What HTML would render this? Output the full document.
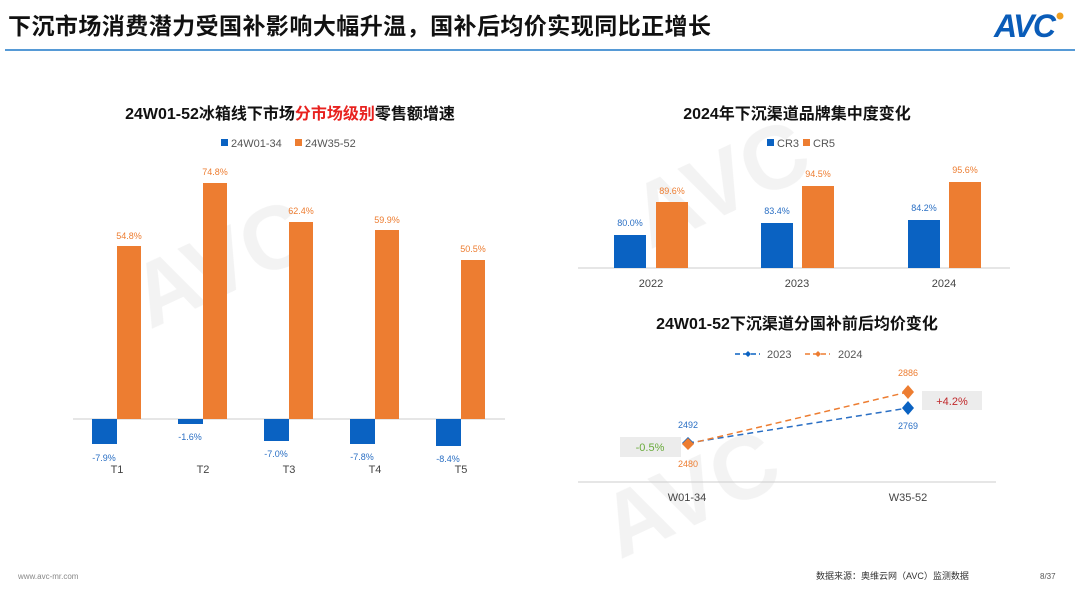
<!DOCTYPE html>
<html><head><meta charset="utf-8"><style>
body{margin:0;width:1080px;height:588px;background:#fff;overflow:hidden;font-family:"Liberation Sans","Noto Sans CJK SC",sans-serif;}
</style></head><body>
<svg width="1080" height="588" xmlns="http://www.w3.org/2000/svg" font-family="Liberation Sans, Noto Sans CJK SC, sans-serif">
<text x="8" y="34" font-size="23" font-weight="bold" fill="#111" textLength="703">下沉市场消费潜力受国补影响大幅升温，国补后均价实现同比正增长</text>
<text x="994" y="37" font-size="32" font-weight="bold" font-style="italic" fill="#0a5cb8" textLength="62">AVC</text>
<circle cx="1060" cy="16" r="3.5" fill="#f0a020"/>
<line x1="5" y1="50" x2="1075" y2="50" stroke="#1f78c8" stroke-width="1.5"/>

<g fill="#000" opacity="0.05" font-weight="bold">
<text x="150" y="330" font-size="90" transform="rotate(-25 150 330)">AVC</text>
<text x="650" y="250" font-size="90" transform="rotate(-25 650 250)">AVC</text>
<text x="620" y="560" font-size="90" transform="rotate(-25 620 560)">AVC</text>
</g>

<text x="290" y="119" font-size="16" font-weight="bold" text-anchor="middle" fill="#111">24W01-52冰箱线下市场<tspan fill="#e8221f">分市场级别</tspan>零售额增速</text>
<rect x="221" y="139" width="7" height="7" fill="#0a62c2"/><text x="231" y="147" font-size="11" fill="#555">24W01-34</text>
<rect x="295" y="139" width="7" height="7" fill="#ed7d31"/><text x="305" y="147" font-size="11" fill="#555">24W35-52</text>
<line x1="73" y1="419" x2="505" y2="419" stroke="#ccc"/>
<g fill="#0a62c2">
<rect x="92" y="419" width="25" height="25"/>
<rect x="178" y="419" width="25" height="5"/>
<rect x="264" y="419" width="25" height="22"/>
<rect x="350" y="419" width="25" height="25"/>
<rect x="436" y="419" width="25" height="27"/>
</g>
<g fill="#ed7d31">
<rect x="117" y="246" width="24" height="173"/>
<rect x="203" y="183" width="24" height="236"/>
<rect x="289" y="222" width="24" height="197"/>
<rect x="375" y="230" width="24" height="189"/>
<rect x="461" y="260" width="24" height="159"/>
</g>
<g font-size="9" text-anchor="middle" fill="#ed7d31">
<text x="129" y="239">54.8%</text><text x="215" y="175">74.8%</text><text x="301" y="214">62.4%</text><text x="387" y="223">59.9%</text><text x="473" y="252">50.5%</text>
</g>
<g font-size="9" text-anchor="middle" fill="#2a6fc4">
<text x="104" y="461">-7.9%</text><text x="190" y="440">-1.6%</text><text x="276" y="457">-7.0%</text><text x="362" y="460">-7.8%</text><text x="448" y="462">-8.4%</text>
</g>
<g font-size="11" text-anchor="middle" fill="#444">
<text x="117" y="473">T1</text><text x="203" y="473">T2</text><text x="289" y="473">T3</text><text x="375" y="473">T4</text><text x="461" y="473">T5</text>
</g>

<text x="797" y="119" font-size="16" font-weight="bold" text-anchor="middle" fill="#111">2024年下沉渠道品牌集中度变化</text>
<rect x="767" y="139" width="7" height="7" fill="#0a62c2"/><text x="777" y="147" font-size="11" fill="#555">CR3</text>
<rect x="803" y="139" width="7" height="7" fill="#ed7d31"/><text x="813" y="147" font-size="11" fill="#555">CR5</text>
<line x1="578" y1="268" x2="1010" y2="268" stroke="#ccc"/>
<rect x="614" y="235" width="32" height="33" fill="#0a62c2"/>
<rect x="656" y="202" width="32" height="66" fill="#ed7d31"/>
<rect x="761" y="223" width="32" height="45" fill="#0a62c2"/>
<rect x="802" y="186" width="32" height="82" fill="#ed7d31"/>
<rect x="908" y="220" width="32" height="48" fill="#0a62c2"/>
<rect x="949" y="182" width="32" height="86" fill="#ed7d31"/>
<g font-size="9" text-anchor="middle">
<text x="630" y="226" fill="#2a6fc4">80.0%</text><text x="672" y="194" fill="#ed7d31">89.6%</text>
<text x="777" y="214" fill="#2a6fc4">83.4%</text><text x="818" y="177" fill="#ed7d31">94.5%</text>
<text x="924" y="211" fill="#2a6fc4">84.2%</text><text x="965" y="173" fill="#ed7d31">95.6%</text>
</g>
<g font-size="11" text-anchor="middle" fill="#444">
<text x="651" y="287">2022</text><text x="797" y="287">2023</text><text x="944" y="287">2024</text>
</g>

<text x="797" y="329" font-size="16" font-weight="bold" text-anchor="middle" fill="#111">24W01-52下沉渠道分国补前后均价变化</text>
<line x1="735" y1="354" x2="760" y2="354" stroke="#0a62c2" stroke-width="1.5" stroke-dasharray="5,3"/><path d="M748 351l3 3-3 3-3-3z" fill="#0a62c2"/>
<text x="767" y="358" font-size="11" fill="#555">2023</text>
<line x1="805" y1="354" x2="830" y2="354" stroke="#ed7d31" stroke-width="1.5" stroke-dasharray="5,3"/><path d="M818 351l3 3-3 3-3-3z" fill="#ed7d31"/>
<text x="838" y="358" font-size="11" fill="#555">2024</text>
<rect x="620" y="437" width="61" height="20" fill="#ececec"/>
<text x="650" y="451" font-size="11" text-anchor="middle" fill="#6aab3c">-0.5%</text>
<rect x="922" y="391" width="60" height="19" fill="#ececec"/>
<text x="952" y="405" font-size="11" text-anchor="middle" fill="#c0282a">+4.2%</text>
<line x1="688" y1="443" x2="908" y2="408" stroke="#2a6fc4" stroke-width="1.5" stroke-dasharray="6,4"/>
<line x1="688" y1="444" x2="908" y2="392" stroke="#ed7d31" stroke-width="1.5" stroke-dasharray="6,4"/>
<path d="M688 437l6 6-6 6-6-6z" fill="#0a62c2"/>
<path d="M688 438l6 6-6 6-6-6z" fill="#ed7d31"/>
<path d="M908 401l6 7-6 7-6-7z" fill="#0a62c2"/>
<path d="M908 385l6 7-6 7-6-7z" fill="#ed7d31"/>
<g font-size="9" text-anchor="middle">
<text x="688" y="428" fill="#2a6fc4">2492</text><text x="688" y="467" fill="#ed7d31">2480</text>
<text x="908" y="376" fill="#ed7d31">2886</text><text x="908" y="429" fill="#2a6fc4">2769</text>
</g>
<line x1="578" y1="482" x2="996" y2="482" stroke="#ccc"/>
<g font-size="11" text-anchor="middle" fill="#444">
<text x="687" y="501">W01-34</text><text x="908" y="501">W35-52</text>
</g>

<text x="18" y="579" font-size="8" fill="#888">www.avc-mr.com</text>
<text x="816" y="579" font-size="9" fill="#333">数据来源：奥维云网（AVC）监测数据</text>
<text x="1040" y="579" font-size="8" fill="#555">8/37</text>
</svg>
</body></html>
